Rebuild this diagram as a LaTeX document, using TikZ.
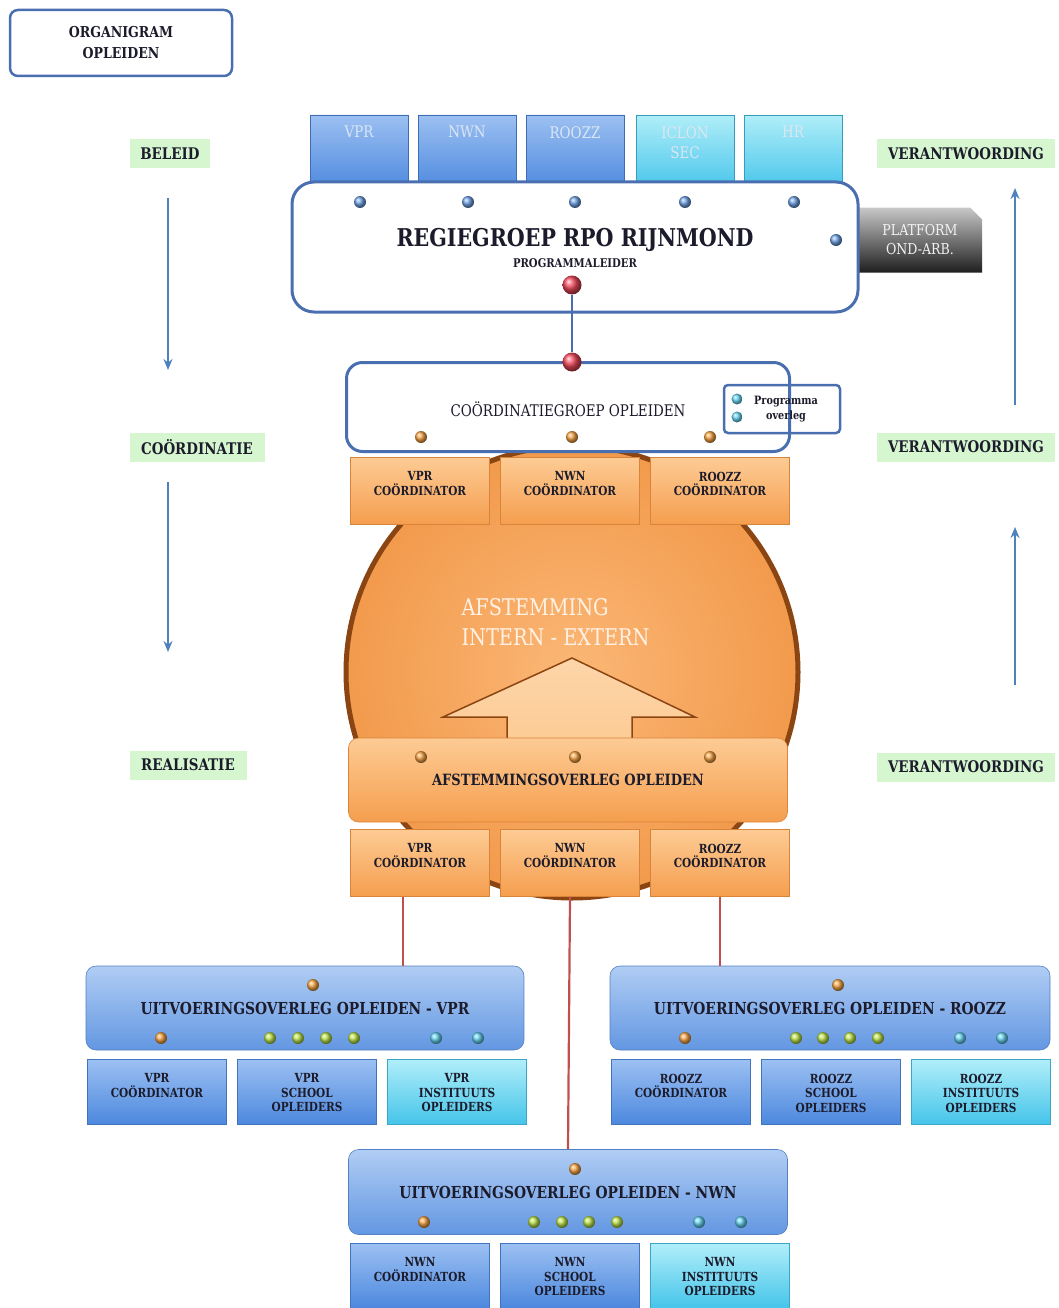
\documentclass[tikz,border=0pt]{standalone}
\usepackage{fontspec}
\setmainfont{DejaVu Serif}[FakeStretch=0.84]
\usepackage{xcolor}
\usepackage{tikz}
\usetikzlibrary{positioning, arrows.meta, shapes.misc}

\definecolor{bordblue}{HTML}{4A6FB0}
\definecolor{arrblue}{HTML}{4F81BD}
\definecolor{labgreen}{HTML}{D6F6CF}
\definecolor{redline}{HTML}{C0504D}
\definecolor{txtdark}{HTML}{1B1B2B}
\definecolor{tabtxt}{HTML}{DCE6F2}
\definecolor{blutop}{HTML}{9CC0F2}
\definecolor{blubot}{HTML}{4C88DE}
\definecolor{cyntop}{HTML}{B0EEF9}
\definecolor{cynbot}{HTML}{45C4EA}
\definecolor{ortop}{HTML}{FDCB94}
\definecolor{orbot}{HTML}{F59E4E}
\definecolor{orline}{HTML}{D9843A}
\definecolor{brownline}{HTML}{8A4512}
\definecolor{cirin}{HTML}{FBB776}
\definecolor{cirout}{HTML}{F29A4C}
\definecolor{ubtop}{HTML}{B0CDF4}
\definecolor{ubbot}{HTML}{6397E2}
\definecolor{platop}{HTML}{C8C8C8}
\definecolor{platbot}{HTML}{1E1E1E}
\definecolor{dblue}{HTML}{6FA2E6}
\definecolor{dorange}{HTML}{F7A445}
\definecolor{dgreen}{HTML}{BDE34A}
\definecolor{dcyan}{HTML}{66D4F2}
\definecolor{dred}{HTML}{F2485A}

\begin{document}
\begin{tikzpicture}[
    x=1pt, y=-1pt,
    lab/.style={fill=labgreen, minimum height=29pt, inner xsep=6pt, font=\bfseries\fontsize{16}{19}\selectfont, text=txtdark},
    varrow/.style={draw=arrblue, line width=2pt, -{Stealth[length=11pt, width=9pt]}},
    frame/.style={draw=bordblue, line width=3pt, fill=white, rounded corners=#1},
    tab/.style={chamfered rectangle, chamfered rectangle corners=north east, chamfered rectangle sep=8pt, minimum width=98pt, minimum height=76pt, inner sep=0pt, top color=#1top, bottom color=#1bot, draw=#1bot!80!black, line width=0.4pt},
    tabtext/.style={anchor=north, align=center, text=tabtxt, font=\fontsize{16}{20}\selectfont},
    obox/.style={chamfered rectangle, chamfered rectangle corners=north east, chamfered rectangle sep=6pt, minimum width=139pt, minimum height=67pt, inner sep=0pt, top color=ortop, bottom color=orbot, draw=orline, line width=0.6pt},
    sbox/.style={chamfered rectangle, chamfered rectangle corners=north east, chamfered rectangle sep=6pt, minimum width=139pt, minimum height=65pt, inner sep=0pt, top color=#1top, bottom color=#1bot, draw=#1bot!85!black, line width=0.6pt},
    btxt/.style={anchor=north, align=center, text=txtdark, font=\bfseries\fontsize{12.5}{14.5}\selectfont},
    ubox/.style={rounded corners=10pt, top color=ubtop, bottom color=ubbot, draw=ubbot!85!black, line width=0.6pt, minimum width=#1, minimum height=84pt, text=txtdark, font=\bfseries\fontsize{16.5}{19}\selectfont},
    dot/.style={circle, inner sep=0pt, minimum size=12pt},
    bdot/.style={dot, ball color=dblue},
    odot/.style={dot, ball color=dorange},
    gdot/.style={dot, ball color=dgreen},
    cdot/.style={dot, ball color=dcyan},
    rdot/.style={circle, inner sep=0pt, minimum size=19pt, ball color=dred},
    rline/.style={draw=redline, line width=2.2pt},
]
\useasboundingbox (0,0) rectangle (1058,1308);

% title
\node[frame=8pt, line width=2.5pt, minimum width=222pt, minimum height=66pt, align=center, text=txtdark, font=\bfseries\fontsize{15}{21}\selectfont] (title) at (121,43) {ORGANIGRAM\\OPLEIDEN};

% side labels
\node[lab, minimum width=80pt] (beleid) at (170,154) {BELEID};
\node[lab, minimum width=135pt] (coord) at (197,447) {COÖRDINATIE};
\node[lab, minimum width=117pt] (real) at (188,765) {REALISATIE};
\node[lab, minimum width=178pt] (ver1) at (966,154) {VERANTWOORDING};
\node[lab, minimum width=178pt] (ver2) at (966,447) {VERANTWOORDING};
\node[lab, minimum width=178pt] (ver3) at (966,767) {VERANTWOORDING};

\coordinate (a1s) at (168,198);  \coordinate (a1e) at (168,370);
\coordinate (a2s) at (168,482);  \coordinate (a2e) at (168,652);
\coordinate (a3s) at (1015,405); \coordinate (a3e) at (1015,188);
\coordinate (a4s) at (1015,685); \coordinate (a4e) at (1015,527);
\draw[varrow] (a1s) -- (a1e);
\draw[varrow] (a2s) -- (a2e);
\draw[varrow] (a3s) -- (a3e);
\draw[varrow] (a4s) -- (a4e);

% partners on top
\node[tab=blu] (t1) at (359,153) {};
\node[tab=blu] (t2) at (467,153) {};
\node[tab=blu] (t3) at (575,153) {};
\node[tab=cyn] (t4) at (685,153) {};
\node[tab=cyn] (t5) at (793,153) {};
\node[tabtext] (t1l) at ([yshift=-8pt]t1.north) {VPR};
\node[tabtext] (t2l) at ([yshift=-8pt]t2.north) {NWN};
\node[tabtext] (t3l) at ([yshift=-8pt]t3.north) {ROOZZ};
\node[tabtext] (t4l) at ([yshift=-8pt]t4.north) {ICLON\\SEC};
\node[tabtext] (t5l) at ([yshift=-8pt]t5.north) {HR};

\node[chamfered rectangle, chamfered rectangle corners=north east, chamfered rectangle sep=6pt, minimum width=124pt, minimum height=65pt, inner sep=0pt, top color=platop, bottom color=platbot, align=center, text=white!90!gray, font=\fontsize{15}{19}\selectfont] (plat) at (920,240) {PLATFORM\\OND-ARB.};

% regiegroep
\node[frame=22pt, minimum width=566pt, minimum height=130pt] (regie) at (575,247) {};
\node[text=txtdark, font=\bfseries\fontsize{24.5}{28}\selectfont] (regiet) at (575,240) {REGIEGROEP RPO RIJNMOND};
\node[text=txtdark, font=\bfseries\fontsize{12}{14}\selectfont] (regies) at (575,263) {PROGRAMMALEIDER};
\node[bdot] (rd1) at (360,202) {};
\node[bdot] (rd2) at (468,202) {};
\node[bdot] (rd3) at (575,202) {};
\node[bdot] (rd4) at (685,202) {};
\node[bdot] (rd5) at (794,202) {};
\node[bdot] (rd6) at (836,240) {};
\node[rdot] (red1) at (572,285) {};

% afstemming circle and arrow
\node[circle, minimum size=452pt, draw=brownline, line width=5pt, inner color=cirin, outer color=cirout] (circ) at (572,672) {};
\draw[draw=brownline, line width=1.5pt, top color=ortop!80!white, bottom color=ortop] (443,717) -- (572,658) -- (695,717) -- (632,717) -- (632,745) -- (507,745) -- (507,717) -- cycle;
\node[anchor=west, align=left, text=white!90!orange, font=\fontsize{23}{30}\selectfont] (afstt) at (458,622) {AFSTEMMING\\INTERN - EXTERN};

% coordinatiegroep
\node[frame=16pt, minimum width=443pt, minimum height=89pt] (cgroep) at (568,407) {};
\node[text=txtdark, font=\fontsize{16}{19}\selectfont] (cgroept) at (568,409) {COÖRDINATIEGROEP OPLEIDEN};
\draw[draw=bordblue, line width=2pt] (red1) -- (572,352);
\node[rdot] (red2) at (572,362) {};
\node[odot] (cd1) at (421,437) {};
\node[odot] (cd2) at (572,437) {};
\node[odot] (cd3) at (710,437) {};
\node[draw=bordblue, line width=2.5pt, rounded corners=4pt, minimum width=116pt, minimum height=48pt] (prog) at (782,409) {};
\node[cdot, minimum size=11pt] (pd1) at (737,399) {};
\node[cdot, minimum size=11pt] (pd2) at (737,417) {};
\node[align=center, text=txtdark, font=\bfseries\fontsize{11.5}{15}\selectfont] (progt) at (786,409) {Programma\\overleg};

\node[obox] (ca1) at (420,491) {};
\node[obox] (ca2) at (570,491) {};
\node[obox] (ca3) at (720,491) {};
\node[btxt] (ca1t) at ([yshift=-11pt]ca1.north) {VPR\\COÖRDINATOR};
\node[btxt] (ca2t) at ([yshift=-11pt]ca2.north) {NWN\\COÖRDINATOR};
\node[btxt] (ca3t) at ([yshift=-11pt]ca3.north) {ROOZZ\\COÖRDINATOR};

% afstemmingsoverleg
\node[rounded corners=10pt, minimum width=439pt, minimum height=84pt, top color=ortop, bottom color=orbot, draw=orline, line width=0.6pt, text=txtdark, font=\bfseries\fontsize{15.5}{18}\selectfont] (aov) at (568,780) {AFSTEMMINGSOVERLEG OPLEIDEN};
\node[odot] (ad1) at (421,757) {};
\node[odot] (ad2) at (575,757) {};
\node[odot] (ad3) at (710,757) {};

\node[obox] (cb1) at (420,863) {};
\node[obox] (cb2) at (570,863) {};
\node[obox] (cb3) at (720,863) {};
\node[btxt] (cb1t) at ([yshift=-11pt]cb1.north) {VPR\\COÖRDINATOR};
\node[btxt] (cb2t) at ([yshift=-11pt]cb2.north) {NWN\\COÖRDINATOR};
\node[btxt] (cb3t) at ([yshift=-11pt]cb3.north) {ROOZZ\\COÖRDINATOR};

% uitvoering VPR
\node[ubox=438pt] (uvpr) at (305,1008) {UITVOERINGSOVERLEG OPLEIDEN - VPR};
\node[odot] (uv0) at (313,985) {};
\node[odot] (uv1) at (161,1038) {};
\foreach \x [count=\i] in {270,298,326,354}
    \node[gdot] (uvg\i) at (\x,1038) {};
\node[cdot] (uvc1) at (436,1038) {};
\node[cdot] (uvc2) at (478,1038) {};
\node[sbox=blu] (sv1) at (157,1092) {};
\node[sbox=blu] (sv2) at (307,1092) {};
\node[sbox=cyn] (sv3) at (457,1092) {};
\node[btxt] (sv1t) at ([yshift=-11pt]sv1.north) {VPR\\COÖRDINATOR};
\node[btxt] (sv2t) at ([yshift=-11pt]sv2.north) {VPR\\SCHOOL\\OPLEIDERS};
\node[btxt] (sv3t) at ([yshift=-11pt]sv3.north) {VPR\\INSTITUUTS\\OPLEIDERS};

% uitvoering ROOZZ
\node[ubox=440pt] (uroo) at (830,1008) {UITVOERINGSOVERLEG OPLEIDEN - ROOZZ};
\node[odot] (ur0) at (838,985) {};
\node[odot] (ur1) at (685,1038) {};
\foreach \x [count=\i] in {796,823,850,878}
    \node[gdot] (urg\i) at (\x,1038) {};
\node[cdot] (urc1) at (960,1038) {};
\node[cdot] (urc2) at (1002,1038) {};
\node[sbox=blu] (sr1) at (681,1092) {};
\node[sbox=blu] (sr2) at (831,1092) {};
\node[sbox=cyn] (sr3) at (981,1092) {};
\node[btxt] (sr1t) at ([yshift=-11pt]sr1.north) {ROOZZ\\COÖRDINATOR};
\node[btxt] (sr2t) at ([yshift=-11pt]sr2.north) {ROOZZ\\SCHOOL\\OPLEIDERS};
\node[btxt] (sr3t) at ([yshift=-11pt]sr3.north) {ROOZZ\\INSTITUUTS\\OPLEIDERS};

% uitvoering NWN
\node[ubox=439pt, minimum height=85pt] (unwn) at (568,1192) {UITVOERINGSOVERLEG OPLEIDEN - NWN};
\node[odot] (un0) at (575,1169) {};
\node[odot] (un1) at (424,1222) {};
\foreach \x [count=\i] in {534,562,589,617}
    \node[gdot] (ung\i) at (\x,1222) {};
\node[cdot] (unc1) at (699,1222) {};
\node[cdot] (unc2) at (741,1222) {};
\node[sbox=blu] (sn1) at (420,1276) {};
\node[sbox=blu] (sn2) at (570,1276) {};
\node[sbox=cyn] (sn3) at (720,1276) {};
\node[btxt] (sn1t) at ([yshift=-11pt]sn1.north) {NWN\\COÖRDINATOR};
\node[btxt] (sn2t) at ([yshift=-11pt]sn2.north) {NWN\\SCHOOL\\OPLEIDERS};
\node[btxt] (sn3t) at ([yshift=-11pt]sn3.north) {NWN\\INSTITUUTS\\OPLEIDERS};

% connections
\coordinate (l1) at (403,897);
\draw[rline] (l1) -- (l1 |- uvpr.north);
\draw[rline] (cb2.south) -- (unwn.north);
\draw[rline] (cb3.south) -- (cb3.south |- uroo.north);
\end{tikzpicture}
\end{document}
